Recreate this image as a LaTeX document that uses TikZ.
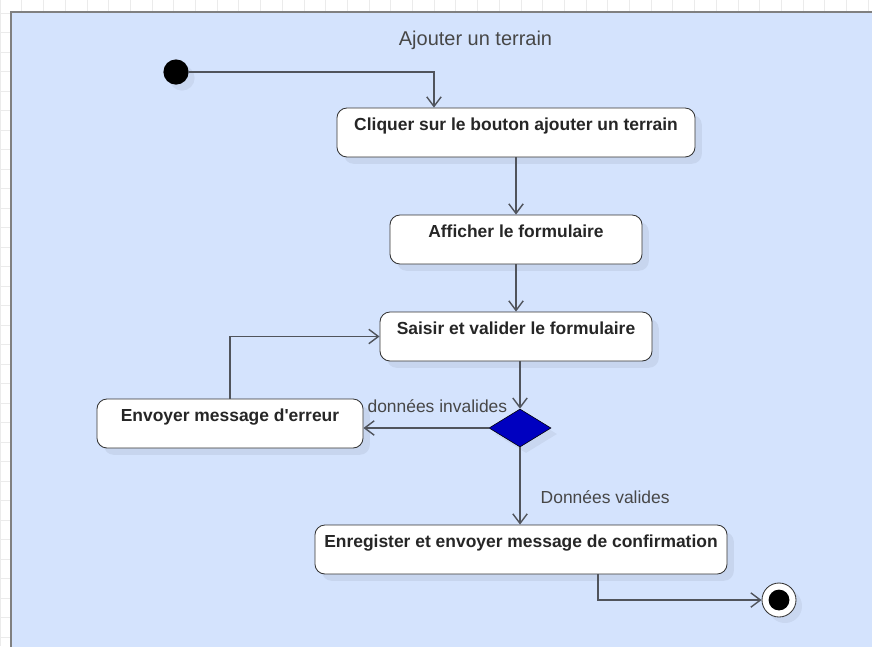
\documentclass[tikz,border=0pt]{standalone}
\usepackage{fontspec}
\setmainfont{Liberation Sans}
\usetikzlibrary{shapes.geometric,arrows.meta,shadows}
\definecolor{canvas}{HTML}{D4E3FD}
\definecolor{wire}{HTML}{50545C}
\definecolor{decfill}{HTML}{0000C0}
\begin{document}
\begin{tikzpicture}[x=0.025cm, y=-0.025cm,
    action/.style={draw=black!80, fill=white, rounded corners=0.25cm, line width=0.6pt,
        inner xsep=0pt, inner ysep=0pt, text height=0.55cm, text depth=0.675cm,
        font=\fontsize{12.4}{14}\selectfont\bfseries, text=black!85,
        drop shadow={shadow xshift=0.17cm, shadow yshift=-0.17cm, fill=black, opacity=0.06}},
    flow/.style={draw=wire, line width=1pt, -{Straight Barb[length=0.24cm, width=0.36cm]}},
    lbl/.style={inner sep=0pt, text=black!72, font=\fontsize{12.4}{14}\selectfont},
    gridline/.style={draw=black!8, line width=0.4pt}]
        \clip (0,0) rectangle (872,646);
        \useasboundingbox (0,0) rectangle (872,646);
        % canvas grid and frame
        \foreach \x in {0,21.7,...,872} \draw[gridline] (\x,0) -- (\x,646);
        \foreach \y in {13,32.5,...,646} \draw[gridline] (0,\y) -- (872,\y);
        \draw[draw=black!50, line width=1.4pt, fill=canvas] (11,12) rectangle (890,670);
        \node[lbl, font=\fontsize{14.2}{16}\selectfont, anchor=base] (Title) at (475.5,45) {
            Ajouter un terrain
        };
        % states
        \node[circle, fill=black, inner sep=0pt, minimum size=0.63cm,
            drop shadow={shadow xshift=0.15cm, shadow yshift=-0.15cm, fill=black, opacity=0.05}] (Start) at (176,72) {};
        \node[action, minimum width=8.95cm] (ClickButton) at (516,132.5) {
            Cliquer sur le bouton ajouter un terrain
        };
        \node[action, minimum width=6.3cm] (ShowForm) at (516,239.5) {
            Afficher le formulaire
        };
        \node[action, minimum width=6.8cm] (EnterForm) at (516,336.5) {
            Saisir et valider le formulaire
        };
        \node[action, minimum width=6.65cm] (ErrorMsg) at (230,423.5) {
            Envoyer message d\textquotesingle erreur
        };
        \node[diamond, draw=black, fill=decfill, inner sep=0pt, minimum width=1.55cm, minimum height=0.95cm,
            drop shadow={shadow xshift=0.15cm, shadow yshift=-0.15cm, fill=black, opacity=0.05}] (Check) at (520,428) {};
        \node[action, minimum width=10.3cm] (Save) at (521,549.5) {
            Enregister et envoyer message de confirmation
        };
        \node[circle, draw=black!80, fill=white, line width=0.6pt, inner sep=0pt, minimum size=0.85cm,
            drop shadow={shadow xshift=0.15cm, shadow yshift=-0.15cm, fill=black, opacity=0.05}] (End) at (779,600) {};
        \node[circle, fill=black, inner sep=0pt, minimum size=0.52cm] (EndDot) at (End) {};
        % transitions
        \draw[flow] (Start) -| ([xshift=-2.05cm]ClickButton.north);
        \draw[flow] (ClickButton.south) -- (ShowForm.north);
        \draw[flow] (ShowForm.south) -- (EnterForm.north);
        \draw[flow] (EnterForm.south -| Check.north) -- (Check.north);
        \draw[flow] (Check.west) -- (Check.west -| ErrorMsg.east)
            node[lbl, pos=0.41, anchor=base, yshift=0.4cm] {données invalides};
        \draw[flow] (ErrorMsg.north) |- (EnterForm.west);
        \draw[flow] (Check.south) -- (Check.south |- Save.north)
            node[lbl, pos=0.73, anchor=base west, xshift=0.5cm] {Données valides};
        \draw[flow] ([xshift=1.925cm]Save.south) |- (End);
\end{tikzpicture}
\end{document}
